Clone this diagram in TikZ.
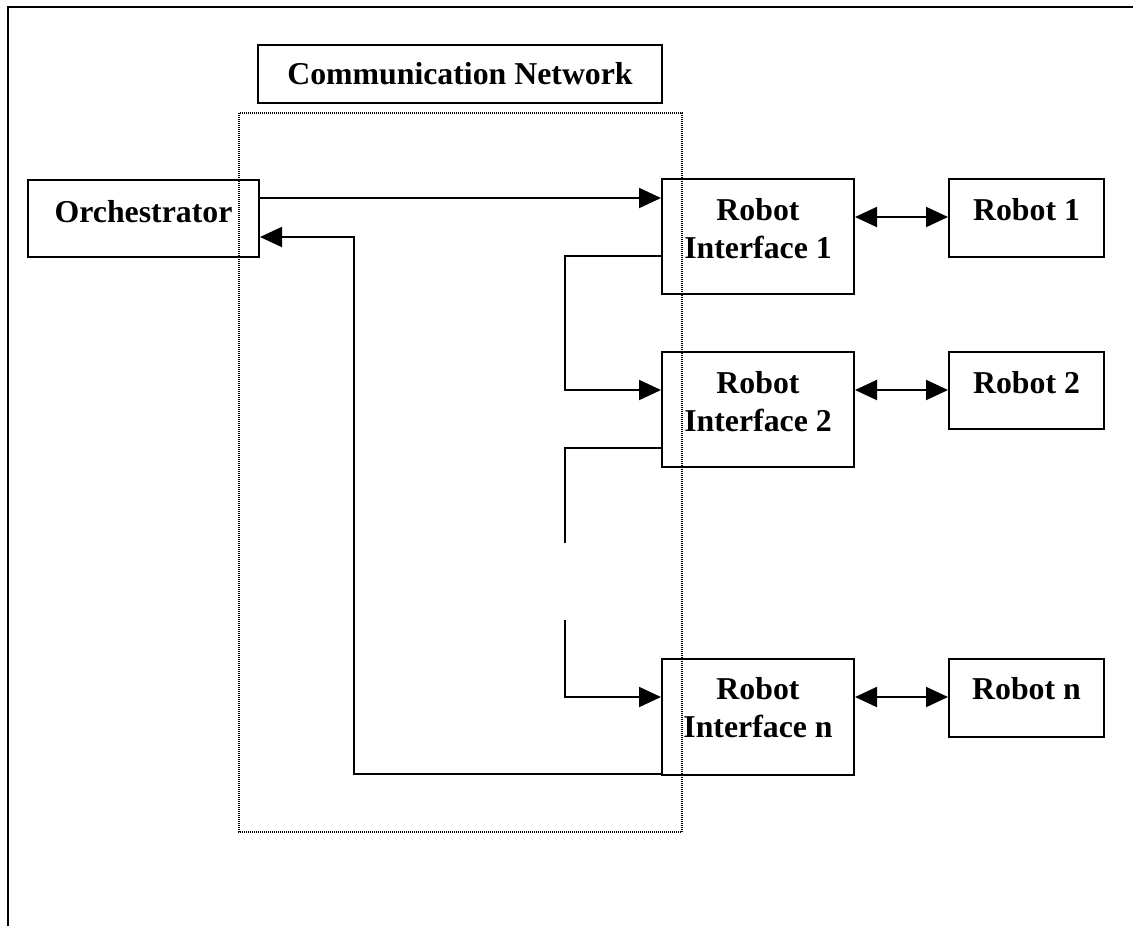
\documentclass[tikz,border=0pt]{standalone}
\usepackage{fontspec}
\setmainfont{Liberation Serif}
\usetikzlibrary{arrows.meta}

\tikzset{
  box/.style={draw, line width=1pt, rectangle, inner sep=0pt},
  lbl/.style={anchor=base, align=center, inner sep=0pt,
              font=\fontsize{15.9}{19}\selectfont\bfseries},
  conn/.style={line width=1pt},
  arr/.style={conn, -{Triangle[length=11pt,width=10pt]}},
  darr/.style={conn, {Triangle[length=11pt,width=10pt]}-{Triangle[length=11pt,width=10pt]}},
  net/.style={line width=0.6pt, dash pattern=on 0.5pt off 0.5pt},
}

\begin{document}
\begin{tikzpicture}[x=0.5pt, y=-0.5pt]
  \useasboundingbox (0,0) rectangle (1133,926);

  % partial page frame
  \draw[line width=1pt] (8,926) -- (8,7) -- (1133,7);

  % network region
  \draw[net] (239,113) rectangle (682,832);

  % boxes
  \node[box, minimum width=202pt, minimum height=29pt]   (comm) at (460,74)     {};
  \node[box, minimum width=115.5pt, minimum height=38.5pt] (orch) at (143.5,218.5) {};
  \node[box, minimum width=96pt, minimum height=57.5pt]  (ri1) at (758,236.5)  {};
  \node[box, minimum width=96pt, minimum height=57.5pt]  (ri2) at (758,409.5)  {};
  \node[box, minimum width=96pt, minimum height=58pt]    (rin) at (758,717)    {};
  \node[box, minimum width=77.5pt, minimum height=39pt]  (r1)  at (1026.5,218) {};
  \node[box, minimum width=77.5pt, minimum height=38.5pt] (r2) at (1026.5,390.5) {};
  \node[box, minimum width=77.5pt, minimum height=39pt]  (rn)  at (1026.5,698) {};

  % labels (base anchor sits on the last line)
  \node[lbl] (tcomm) at (460,84)    {Communication Network};
  \node[lbl] (torch) at (143.5,222) {Orchestrator};
  \node[lbl] (tri1)  at (758,258)   {Robot\\Interface 1};
  \node[lbl] (tri2)  at (758,431)   {Robot\\Interface 2};
  \node[lbl] (trin)  at (758,737)   {Robot\\Interface n};
  \node[lbl] (tr1)   at (1026.5,220) {Robot 1};
  \node[lbl] (tr2)   at (1026.5,393) {Robot 2};
  \node[lbl] (trn)   at (1026.5,699) {Robot n};

  % gap in the interface chain
  \coordinate (gapA) at (565,543);
  \coordinate (gapB) at (565,620);

  % orchestrator to first interface
  \draw[arr] (orch.east |- 0,198) -- (ri1.west |- 0,198);

  % interface chain
  \draw[arr] (ri1.west |- 0,256) -- (565,256) -- (565,390) -- (ri2.west |- 0,390);
  \draw[conn] (ri2.west |- 0,448) -- (565,448) -- (gapA);
  \draw[arr] (gapB) -- (565,697) -- (rin.west |- 0,697);

  % return path to orchestrator
  \draw[arr] (rin.west |- 0,774) -- (354,774) -- (354,237) -- (orch.east |- 0,237);

  % interface to robot links
  \draw[darr] (ri1.east |- 0,217) -- (r1.west |- 0,217);
  \draw[darr] (ri2.east |- 0,390) -- (r2.west |- 0,390);
  \draw[darr] (rin.east |- 0,697) -- (rn.west |- 0,697);
\end{tikzpicture}
\end{document}
